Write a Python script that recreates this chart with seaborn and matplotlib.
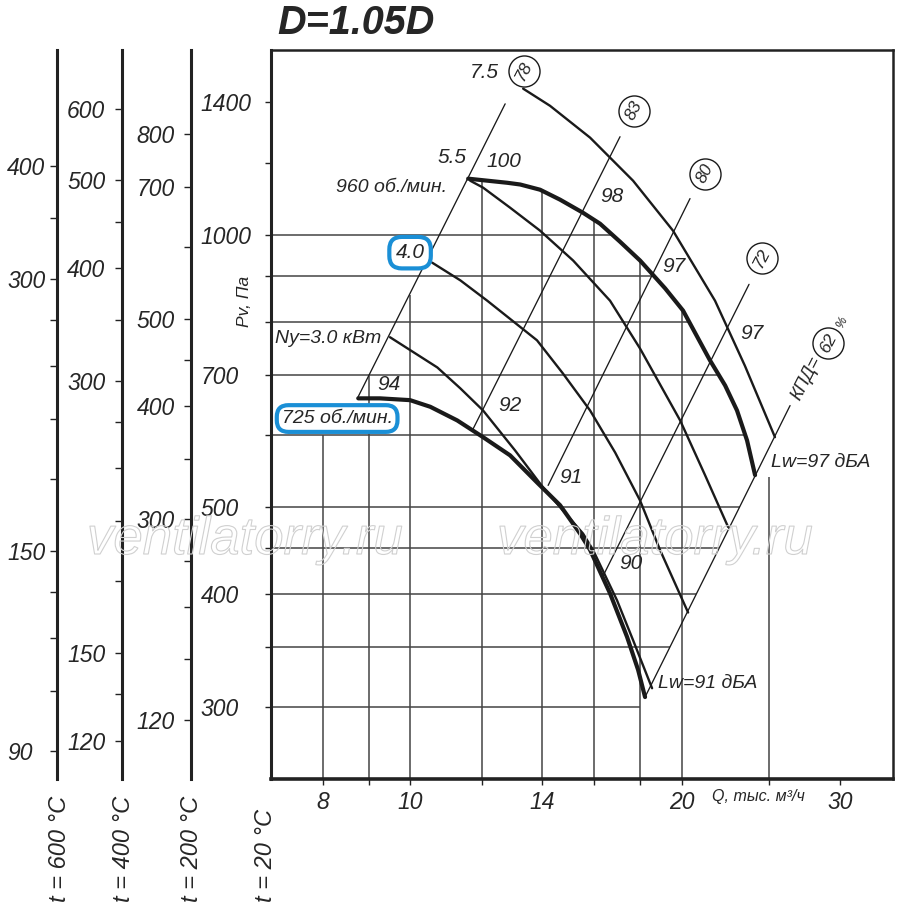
import matplotlib
matplotlib.use("Agg")
import matplotlib.pyplot as plt
import matplotlib.patheffects as pe
from matplotlib.ticker import NullLocator
import seaborn as sns

# --- values: Q in тыс. м3/ч, Pv in Па ---
# pressure curves
q_960 = [11.59, 12.81, 13.24, 13.93, 14.66, 15.55, 16.24, 17.09, 17.99, 19.18, 20.08,
         21.51, 22.36, 23.05, 23.65, 24.14]
p_960 = [1153, 1141, 1136, 1121, 1093, 1057, 1028, 982, 936, 872, 824,
         726, 681, 639, 592, 542]
q_725 = [8.75, 9.25, 9.99, 10.52, 11.27, 12.04, 12.90, 13.82, 14.66, 15.43, 15.83,
         16.66, 17.40, 17.90, 18.22]
p_725 = [659, 659, 656, 645, 623, 597, 570, 532, 502, 467, 448,
         401, 359, 330, 308]

# motor power curves (Ny, кВт)
q_n30 = [9.49, 10.71, 11.36, 12.04, 13.07, 14.04, 15.55, 15.95, 16.96, 17.67, 18.55]
p_n30 = [770, 713, 676, 639, 577, 525, 467, 448, 394, 356, 315]
q_n40 = [10.57, 11.36, 12.17, 13.82, 14.77, 15.83, 16.88, 17.99, 18.93, 20.34]
p_n40 = [931, 890, 845, 764, 702, 639, 574, 508, 448, 382]
q_n55 = [11.65, 12.04, 12.90, 13.93, 15.16, 16.66, 17.99, 19.93, 21.24, 22.53]
p_n55 = [1147, 1127, 1071, 1010, 936, 845, 748, 623, 542, 475]
q_n75 = [13.34, 14.29, 15.83, 17.67, 19.57, 21.79, 23.52, 25.40]
p_n75 = [1450, 1388, 1280, 1147, 1010, 845, 716, 597]

# efficiency rays (КПД, %)
eff_values = ["78", "83", "80", "72", "62"]
ray_q0 = [8.73, 11.74, 14.22, 16.32, 18.22]
ray_p0 = [659, 610, 528, 417, 308]
ray_q1 = [12.74, 17.09, 20.44, 23.77, 26.40]
ray_p1 = [1395, 1283, 1096, 881, 647]
eff_q = [13.37, 17.71, 21.24, 24.57, 29.09]
eff_p = [1517, 1371, 1168, 941, 758]

# noise levels along the curves
lw_text = ["100", "98", "97", "97", "94", "92", "91", "90"]
lw_q = [12.71, 16.75, 19.62, 23.95, 9.47, 12.90, 15.08, 17.58]
lw_p = [1204, 1102, 922, 777, 683, 647, 539, 433]

# grid
vgrid_q = [8, 9, 10, 12, 14, 16, 18, 20, 25]
vgrid_top = [600, 697, 858, 1150, 1121, 1037, 936, 828, 540]
hgrid_p = [1000, 900, 800, 700, 600, 500, 450, 400, 350, 300]
hgrid_end = [16.75, 18.60, 20.42, 21.94, 23.54, 23.25, 22.04, 20.78, 19.42, 18.0]

# axis ticks
x_ticks = [8, 9, 10, 12, 14, 16, 18, 20, 25, 30]
x_labels = ["8", "", "10", "", "14", "", "", "20", "", "30"]
p_ticks = [1400, 1200, 1000, 900, 800, 700, 600, 500, 450, 400, 350, 300]
p_labels = ["1400", "", "1000", "", "", "700", "", "500", "", "400", "", "300"]

# temperature scales
temps = [600, 400, 200]
t600_ticks = [400, 350, 300, 270, 240, 210, 180, 150, 135, 120, 105, 90]
t600_labels = ["400", "", "300", "", "", "", "", "150", "", "", "", "90"]
t400_ticks = [600, 500, 450, 400, 350, 300, 270, 240, 210, 180, 150, 135, 120]
t400_labels = ["600", "500", "", "400", "", "300", "", "", "", "", "150", "", "120"]
t200_ticks = [800, 700, 600, 500, 450, 400, 350, 300, 270, 240, 210, 180]
t200_labels = ["800", "700", "", "500", "", "400", "", "300", "", "", "", "120"]

sns.set_theme(style="white")
plt.rcParams['font.family'] = ['Liberation Sans', 'DejaVu Sans']
plt.rcParams['font.style'] = 'italic'

W, H = 900, 919
QMIN, QMAX, PMIN, PMAX = 7.0, 34.35, 250, 1600
bottom, height = 1 - 779 / H, 729 / H

fig = plt.figure(figsize=(9, 9.19), dpi=100)
ax = fig.add_axes([271 / W, bottom, 622 / W, height])
ax.set_xscale('log')
ax.set_yscale('log')
ax.set_xlim(QMIN, QMAX)
ax.set_ylim(PMIN, PMAX)
ax.set_facecolor('white')

grid_c = '#444444'
ax.vlines(vgrid_q, PMIN, vgrid_top, color=grid_c, lw=1.1, zorder=1)
ax.hlines(hgrid_p, QMIN, hgrid_end, color=grid_c, lw=1.1, zorder=1)

for q0, p0, q1, p1 in zip(ray_q0, ray_p0, ray_q1, ray_p1):
    sns.lineplot(x=[q0, q1], y=[p0, p1], ax=ax, color='k', linewidth=0.95,
                 sort=False, estimator=None, zorder=2)

for q, p in [(q_n30, p_n30), (q_n40, p_n40), (q_n55, p_n55), (q_n75, p_n75)]:
    sns.lineplot(x=q, y=p, ax=ax, color='k', linewidth=1.7, sort=False,
                 estimator=None, zorder=3)
for q, p in [(q_960, p_960), (q_725, p_725)]:
    sns.lineplot(x=q, y=p, ax=ax, color='k', linewidth=3.0, sort=False,
                 estimator=None, zorder=4)
for line in ax.get_lines():
    line.set_solid_joinstyle('round')

# efficiency circles
ax.scatter(eff_q, eff_p, s=500, facecolor='white', edgecolor='k', linewidth=1.0, zorder=5)
for q, p, t in zip(eff_q, eff_p, eff_values):
    ax.text(q, p, t, rotation=63, ha='center', va='center', fontsize=12.5,
            rotation_mode='anchor', zorder=6)
ax.text(27.50, 693, "КПД=", rotation=63, ha='center', va='center', fontsize=13,
        rotation_mode='anchor', zorder=6)
ax.text(30.15, 799, "%", rotation=63, ha='center', va='center', fontsize=9,
        rotation_mode='anchor', zorder=6)

for q, p, t in zip(lw_q, lw_p, lw_text):
    ax.text(q, p, t, ha='center', va='center', fontsize=15, zorder=6)

ax.text(12.07, 1510, "7.5", ha='center', va='center', fontsize=15)
ax.text(11.12, 1216, "5.5", ha='center', va='center', fontsize=15)
ax.text(10.98, 1127, "960 об./мин.", ha='right', va='center', fontsize=14)
ax.text(7.077, 767, "Ny=3.0 кВт", ha='left', va='center', fontsize=14)
ax.text(25.15, 560, "Lw=97 дБА", ha='left', va='center', fontsize=14)
ax.text(18.84, 319, "Lw=91 дБА", ha='left', va='center', fontsize=14)

blue = '#1a8fd6'
ax.text(8.29, 626, "725 об./мин.", ha='center', va='center', fontsize=14, zorder=7,
        bbox=dict(boxstyle='round,pad=0.25,rounding_size=0.6', fc='white', ec=blue, lw=3))
ax.text(9.99, 955, "4.0", ha='center', va='center', fontsize=15, zorder=7,
        bbox=dict(boxstyle='round,pad=0.3,rounding_size=0.6', fc='white', ec=blue, lw=3))

# axes styling
for s, lw in [('top', 1.8), ('right', 1.8), ('left', 2.2), ('bottom', 2.6)]:
    ax.spines[s].set_visible(True)
    ax.spines[s].set_linewidth(lw)
    ax.spines[s].set_color('#222222')
ax.xaxis.set_minor_locator(NullLocator())
ax.yaxis.set_minor_locator(NullLocator())
ax.set_xticks(x_ticks)
ax.set_xticklabels(x_labels)
ax.set_yticks(p_ticks)
ax.set_yticklabels(p_labels)
ax.tick_params(axis='x', direction='out', length=4.5, width=1, pad=4, labelsize=16.5,
               bottom=True, color='#222222')
ax.tick_params(axis='y', direction='out', length=4.5, width=1, pad=46, labelsize=16.5,
               left=True, color='#222222')
for lab in ax.get_yticklabels():
    lab.set_horizontalalignment('left')
ax.set_xlabel("")
ax.set_ylabel("")


def temp_axis(xpix, t, ticks, labels, pad):
    ratio = (273 + 20) / (273 + t)
    tax = fig.add_axes([xpix / W, bottom, 0.0001, height])
    tax.set_yscale('log')
    tax.set_ylim(PMIN * ratio, PMAX * ratio)
    for s in ['top', 'right', 'bottom']:
        tax.spines[s].set_visible(False)
    tax.spines['left'].set_linewidth(2.2)
    tax.spines['left'].set_color('#222222')
    tax.set_xticks([])
    tax.yaxis.set_minor_locator(NullLocator())
    tax.set_yticks(ticks)
    tax.set_yticklabels(labels)
    tax.tick_params(axis='y', direction='out', length=5, width=1, pad=pad,
                    labelsize=16.5, left=True, color='#222222')
    for lab in tax.get_yticklabels():
        lab.set_horizontalalignment('left')
    tax.patch.set_visible(False)
    return tax


temp_axis(57, temps[0], t600_ticks, t600_labels, 31)
temp_axis(122, temps[1], t400_ticks, t400_labels, 34.5)
temp_axis(191, temps[2], t200_ticks, t200_labels, 34)

for xpix, t in zip([59, 124, 192, 266], [600, 400, 200, 20]):
    fig.text(xpix / W, 1 - 902 / H, f"t = {t} °C", rotation=90, ha='center',
             va='bottom', fontsize=17)

fig.text(277 / W, 1 - 23 / H, "D=1.05D", fontsize=28.5, fontweight='bold',
         style='italic', ha='left', va='center')
fig.text(245 / W, 1 - 301 / H, "Pv, Па", rotation=90, ha='center', va='center', fontsize=12.5)
fig.text(758 / W, 1 - 797 / H, "Q, тыс. м³/ч", ha='center', va='center', fontsize=11.5)

for xpix in [245, 655]:
    fig.text(xpix / W, 1 - 540 / H, "ventilatorry.ru", ha='center', va='center',
             fontsize=38, color=(1, 1, 1, 0), zorder=10,
             path_effects=[pe.Stroke(linewidth=0.8, foreground='#d0d0d0')])

fig.savefig("out.png", dpi=100)
